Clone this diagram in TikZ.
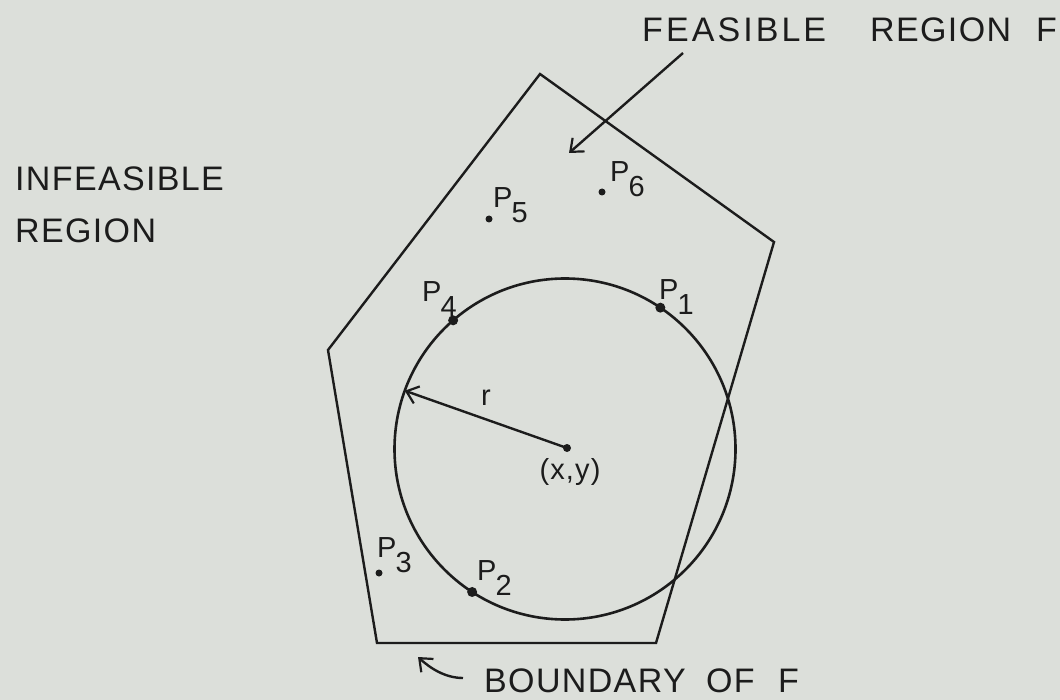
\documentclass[tikz,border=0pt]{standalone}
\usepackage{fontspec}
\setmainfont{Liberation Sans}
\newfontfamily\lett[LetterSpace=4]{Liberation Sans}
\newfontfamily\lettw[LetterSpace=9]{Liberation Sans}
\usetikzlibrary{arrows.meta}
\definecolor{bg}{RGB}{220,223,218}
\definecolor{ink}{RGB}{28,28,28}
\newcommand\lsub[1]{\kern-1pt\raisebox{-15pt}{#1}}
\begin{document}
\begin{tikzpicture}[x=1pt,y=-1pt,line width=2.4pt,
  big/.style={font=\lett\fontsize{34}{36}\selectfont,text=ink,inner sep=0pt,anchor=base west},
  lab/.style={font=\fontsize{29}{30}\selectfont,text=ink,inner sep=0pt,anchor=base west},
  dot/.style={circle,fill=ink,draw=none,inner sep=0pt,minimum size=7pt},
  bigdot/.style={dot,minimum size=10pt},
  barb/.style={draw=ink,-{Straight Barb[length=11pt,width=18pt,line width=2.2pt]}},
  edge/.style={draw=ink,line width=2.4pt,line join=miter}]
\fill[bg] (0,0) rectangle (1060,700);
\useasboundingbox (0,0) rectangle (1060,700);
% polygon
\coordinate (v1) at (540,74);
\coordinate (v2) at (774,242);
\coordinate (v3) at (656,643);
\coordinate (v4) at (377,643);
\coordinate (v5) at (328,350);
\draw[edge] (v1) -- (v2) -- (v3) -- (v4) -- (v5) -- cycle;
% circle
\node[circle,draw=ink,line width=2.6pt,minimum size=341pt,inner sep=0pt,outer sep=0pt] (C) at (565,449) {};
\node[dot,minimum size=8pt] (ctr) at (567,448) {};
\draw[barb] (ctr.center) -- (C.160);
\node[lab,anchor=center] (r) at (486,398) {r};
\node[big,font=\lett\fontsize{29}{30}\selectfont,anchor=center] (xy) at (570,472) {(x,y)};
% points on circle
\node[bigdot] (p1) at (C.56) {};
\node[bigdot] (p4) at (C.131) {};
\node[bigdot] (p2) at (C.237) {};
% other points
\node[dot] (p5) at (489,219) {};
\node[dot] (p6) at (602,192) {};
\node[dot] (p3) at (379,573) {};
% point labels
\node[lab] (l1) at (658,300) {P\lsub{1}};
\node[lab] (l4) at (421,302) {P\lsub{4}};
\node[lab] (l2) at (476,580) {P\lsub{2}};
\node[lab] (l3) at (376,557) {P\lsub{3}};
\node[lab] (l5) at (492,208) {P\lsub{5}};
\node[lab] (l6) at (609,182) {P\lsub{6}};
% region labels
\node[big] (feas) at (641,42) {\makebox[228pt][l]{\lettw FEASIBLE}\makebox[166pt][l]{REGION}F};
\node[big] (inf1) at (14,191) {INFEASIBLE};
\node[big] (inf2) at (14,243) {REGION};
\node[big] (bnd) at (483,692) {\makebox[222pt][l]{BOUNDARY}\makebox[72pt][l]{OF}F};
% arrows
\coordinate (fa) at (683,53);
\coordinate (fb) at (569,153);
\draw[barb] (fa) -- (fb);
\coordinate (ba) at (463,678);
\coordinate (bb) at (418,657);
\draw[barb] (ba) .. controls (445,678) and (430,668) .. (bb);
\end{tikzpicture}
\end{document}
